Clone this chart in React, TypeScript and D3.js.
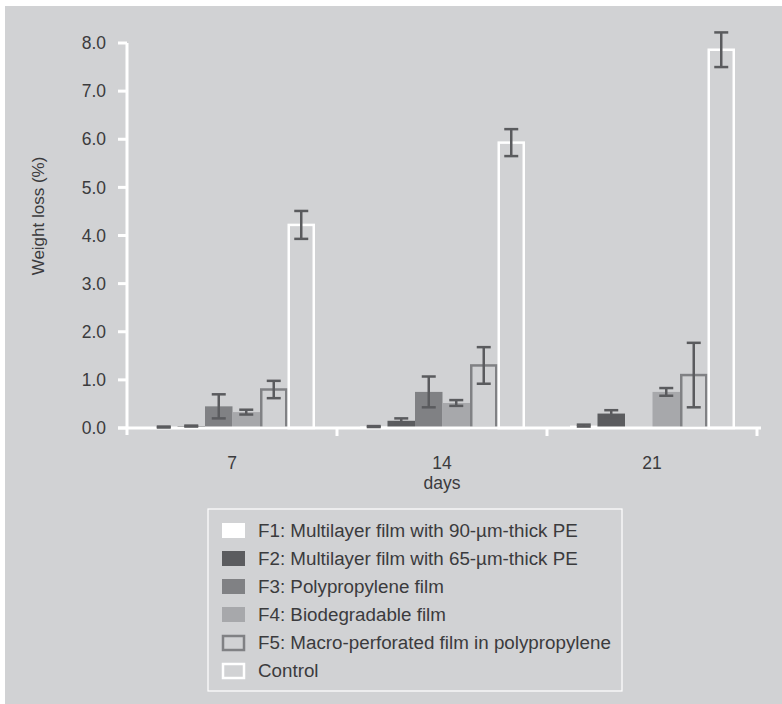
import React from 'react';
import * as d3 from 'd3';

// days on the x axis
const days = ['7', '14', '21'];
const seriesKeys = ['F1', 'F2', 'F3', 'F4', 'F5', 'Control'];
const seriesLabels = [
  'F1: Multilayer film with 90-\u00b5m-thick PE',
  'F2: Multilayer film with 65-\u00b5m-thick PE',
  'F3: Polypropylene film',
  'F4: Biodegradable film',
  'F5: Macro-perforated film in polypropylene',
  'Control',
];

// mean weight loss (%) per series, one value per day
const f1 = [0.02, 0.03, 0.05];
const f2 = [0.04, 0.15, 0.3];
const f3 = [0.45, 0.75, 0];
const f4 = [0.33, 0.52, 0.75];
const f5 = [0.8, 1.3, 1.1];
const control = [4.22, 5.93, 7.86];

// error (+/-)
const f1Err = [0.01, 0.01, 0.02];
const f2Err = [0.01, 0.05, 0.07];
const f3Err = [0.25, 0.32, 0];
const f4Err = [0.05, 0.06, 0.08];
const f5Err = [0.18, 0.38, 0.67];
const controlErr = [0.29, 0.28, 0.36];

const yTicks = [0, 1, 2, 3, 4, 5, 6, 7, 8];

const values = [f1, f2, f3, f4, f5, control];
const errors = [f1Err, f2Err, f3Err, f4Err, f5Err, controlErr];

const BG = '#d1d2d4';
const INK = '#3b3b3d';
const ERR = '#5a5b5e';
const fills = ['#ffffff', '#5b5c5f', '#808184', '#a7a8ab', 'none', 'none'];
const strokes = ['none', 'none', 'none', 'none', '#808184', '#ffffff'];

const App = () => {
  const w = 782;
  const h = 704;
  const left = 127;
  const right = 757;
  const base = 428;
  const top = 43;

  const x0 = d3.scaleBand<string>().domain(days).range([left, right]);
  const x1 = d3
    .scaleBand<string>()
    .domain(seriesKeys)
    .range([23, x0.bandwidth() - 22]);
  const y = d3.scaleLinear().domain([0, 8]).range([base, top]);
  const bw = x1.bandwidth();
  const font = '"Liberation Sans", Arial, sans-serif';

  return (
    <svg width={w} height={h} style={{ display: 'block', position: 'absolute', left: 0, top: 0 }}>
      <rect x={5} y={6} width={w - 5} height={h - 6} fill={BG} />

      {/* bars */}
      {days.map((d, di) => (
        <g key={d} transform={`translate(${x0(d)},0)`}>
          {seriesKeys.map((s, si) => {
            const v = values[si][di];
            const outlined = strokes[si] !== 'none';
            const bx = (x1(s) as number) + (outlined ? 1.25 : 0);
            const bwid = bw - (outlined ? 2.5 : 0);
            return (
              <rect
                key={s}
                x={bx}
                y={y(v)}
                width={bwid}
                height={Math.max(0, base - y(v))}
                fill={fills[si]}
                stroke={strokes[si]}
                strokeWidth={2.5}
              />
            );
          })}
        </g>
      ))}

      {/* axes */}
      <g stroke="#ffffff" strokeWidth={3} fill="none">
        <line x1={left} x2={left} y1={y(8)} y2={base + 7} />
        <line x1={left - 9} x2={right + 4} y1={base} y2={base} />
        {yTicks.map((t) => (
          <line key={t} x1={left - 9} x2={left} y1={y(t)} y2={y(t)} />
        ))}
        {days.map((d) => (
          <line key={d} x1={(x0(d) as number) + x0.bandwidth()} x2={(x0(d) as number) + x0.bandwidth()} y1={base} y2={base + 8} />
        ))}
      </g>

      {/* error bars */}
      {days.map((d, di) => (
        <g key={d} transform={`translate(${x0(d)},0)`} stroke={ERR} strokeWidth={2.5}>
          {seriesKeys.map((s, si) => {
            const v = values[si][di];
            const e = errors[si][di];
            if (v === 0) return null;
            const cx = (x1(s) as number) + bw / 2;
            return (
              <g key={s}>
                <line x1={cx} x2={cx} y1={y(v + e)} y2={y(v - e)} />
                <line x1={cx - 7} x2={cx + 7} y1={y(v + e)} y2={y(v + e)} />
                <line x1={cx - 7} x2={cx + 7} y1={y(v - e)} y2={y(v - e)} />
              </g>
            );
          })}
        </g>
      ))}

      {/* tick labels */}
      <g fontFamily={font} fontSize={17.5} fill={INK}>
        {yTicks.map((t) => (
          <text key={t} x={left - 21} y={y(t)} dy="0.35em" textAnchor="end">
            {t.toFixed(1)}
          </text>
        ))}
        {days.map((d) => (
          <text key={d} x={(x0(d) as number) + x0.bandwidth() / 2} y={463} dy="0.35em" textAnchor="middle">
            {d}
          </text>
        ))}
        <text x={442} y={483} dy="0.35em" textAnchor="middle">days</text>
        <text transform="translate(38,216) rotate(-90)" dy="0.35em" textAnchor="middle" fontSize={17}>
          Weight loss (%)
        </text>
      </g>

      {/* legend */}
      <rect x={208} y={509} width={414} height={182} fill="none" stroke="#ffffff" strokeWidth={1.2} />
      {seriesLabels.map((lab, i) => {
        const ly = 530 + i * 28;
        const outlined = strokes[i] !== 'none';
        return (
          <g key={lab}>
            <rect
              x={outlined ? 223 : 222}
              y={ly - 7 + (outlined ? 1 : 0)}
              width={outlined ? 21 : 23}
              height={outlined ? 14 : 15}
              fill={fills[i]}
              stroke={strokes[i]}
              strokeWidth={2.5}
            />
            <text x={258} y={ly} dy="0.35em" fontFamily={font} fontSize={18.8} fill={INK}>
              {lab}
            </text>
          </g>
        );
      })}
    </svg>
  );
};

export default App;
